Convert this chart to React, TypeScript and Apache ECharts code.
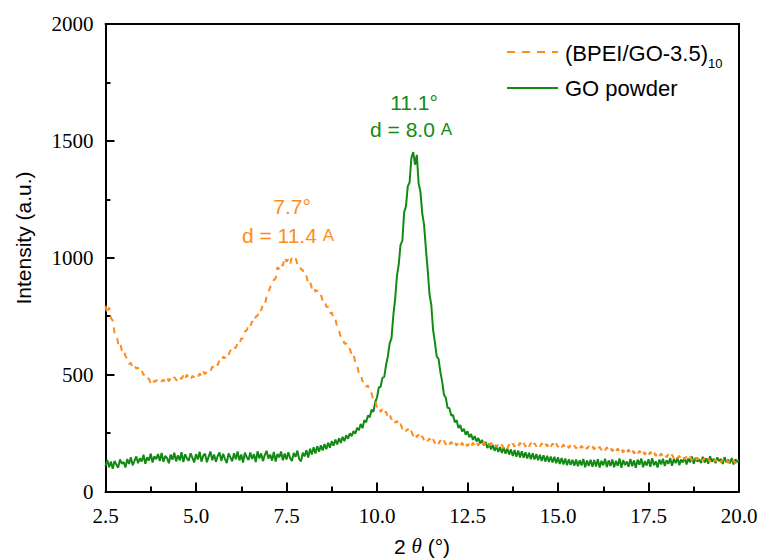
import React, { useEffect, useRef } from "react";
import * as echarts from "echarts";

// 2θ sampling: start 2.5°, step 0.05°, up to 20.0°
const X_START = 2.5;
const X_STEP = 0.05;
const X_TICKS = [2.5, 5.0, 7.5, 10.0, 12.5, 15.0, 17.5, 20.0];
const Y_TICKS = [0, 500, 1000, 1500, 2000];

const SERIES_NAMES = ["(BPEI/GO-3.5)10", "GO powder"];

// (BPEI/GO-3.5)10 intensity
const bpeiIntensity = [
  795, 760, 788, 742, 731, 680, 676, 632, 641, 603,
  610, 580, 566, 545, 551, 528, 538, 526, 530, 512,
  518, 498, 505, 486, 482, 462, 478, 468, 476, 472,
  482, 470, 479, 468, 486, 472, 484, 474, 489, 478,
  472, 490, 481, 496, 479, 500, 484, 476, 495, 489,
  498, 488, 505, 494, 515, 502, 511, 520, 514, 534,
  529, 547, 541, 562, 556, 577, 570, 592, 586, 604,
  598, 617, 614, 636, 630, 655, 654, 684, 690, 712,
  705, 728, 720, 748, 752, 780, 774, 803, 800, 832,
  850, 876, 878, 905, 912, 960, 952, 974, 966, 1002,
  984, 992, 970, 1005, 998, 1000, 972, 974, 950, 948,
  920, 922, 890, 898, 870, 880, 855, 860, 840, 842,
  816, 820, 790, 790, 762, 766, 738, 740, 700, 688,
  660, 660, 632, 634, 608, 610, 586, 592, 550, 540,
  504, 504, 470, 474, 448, 454, 422, 420, 390, 392,
  358, 364, 340, 352, 332, 342, 318, 330, 308, 318,
  294, 302, 280, 289, 268, 278, 258, 268, 247, 258,
  238, 251, 232, 244, 225, 237, 219, 230, 216, 227,
  210, 224, 206, 220, 204, 219, 203, 217, 201, 214,
  200, 213, 198, 212, 196, 210, 195, 209, 193, 208,
  193, 207, 191, 209, 194, 210, 196, 213, 198, 211,
  200, 211, 197, 208, 194, 205, 190, 202, 188, 200,
  186, 199, 184, 201, 188, 205, 192, 207, 194, 209,
  193, 208, 191, 207, 192, 208, 190, 207, 193, 206,
  192, 206, 194, 208, 192, 207, 190, 206, 189, 205,
  190, 204, 189, 201, 187, 200, 186, 198, 185, 197,
  184, 197, 183, 196, 182, 195, 182, 194, 181, 193,
  180, 192, 179, 191, 178, 190, 176, 189, 174, 187,
  172, 186, 170, 184, 168, 183, 167, 181, 165, 180,
  163, 178, 162, 176, 160, 175, 159, 173, 157, 172,
  156, 170, 154, 169, 152, 166, 150, 163, 148, 160,
  146, 159, 144, 157, 142, 155, 141, 153, 139, 151,
  138, 150, 136, 148, 134, 147, 133, 145, 131, 144,
  130, 143, 129, 141, 127, 140, 126, 138, 125, 137,
  124, 136, 123, 135, 122, 134, 121, 133, 120, 132,
  125,
];

// GO powder intensity
const goIntensity = [
  108, 135, 104, 128, 97, 131, 115, 102, 137, 119,
  126, 103, 139, 118, 147, 112, 131, 150, 121, 142,
  128, 157, 119, 146, 133, 162, 124, 151, 138, 160,
  130, 165, 127, 152, 143, 121, 158, 136, 166, 129,
  155, 133, 168, 126, 159, 142, 131, 164, 145, 124,
  160, 137, 170, 128, 153, 162, 125, 149, 171, 134,
  158, 127, 152, 167, 131, 161, 140, 122, 163, 146,
  129, 164, 138, 171, 133, 158, 124, 166, 147, 135,
  167, 139, 160, 126, 172, 141, 163, 130, 156, 174,
  141, 158, 132, 169, 128, 160, 146, 171, 134, 162,
  137, 168, 143, 130, 165, 148, 175, 139, 129, 166,
  150, 177, 145, 183, 158, 189, 163, 194, 170, 198,
  176, 203, 181, 209, 187, 215, 196, 222, 201, 228,
  208, 234, 215, 241, 226, 249, 237, 258, 247, 272,
  262, 289, 271, 305, 296, 325, 318, 350, 341, 382,
  402, 445, 448, 486, 490, 541, 579, 634, 655, 752,
  822, 921, 972, 1055, 1072, 1195, 1220, 1305, 1322, 1428,
  1452, 1398, 1440, 1318, 1282, 1190, 1142, 1040, 948, 845,
  798, 690, 638, 578, 567, 512, 470, 414, 401, 358,
  356, 325, 327, 296, 305, 272, 284, 257, 268, 243,
  258, 232, 246, 221, 237, 214, 229, 205, 221, 198,
  212, 186, 205, 180, 199, 174, 195, 169, 190, 165,
  188, 162, 184, 158, 180, 152, 177, 149, 175, 146,
  172, 145, 168, 141, 166, 138, 163, 137, 160, 134,
  157, 131, 155, 128, 153, 126, 150, 124, 149, 121,
  146, 118, 143, 116, 141, 112, 138, 114, 136, 110,
  137, 108, 134, 111, 139, 104, 133, 109, 136, 106,
  135, 107, 138, 103, 131, 112, 140, 105, 133, 109,
  137, 104, 131, 110, 141, 102, 134, 113, 128, 106,
  139, 108, 133, 101, 136, 115, 141, 104, 130, 111,
  138, 106, 142, 112, 129, 103, 137, 116, 140, 109,
  134, 118, 143, 110, 139, 121, 145, 113, 137, 124,
  146, 116, 141, 125, 150, 119, 144, 128, 138, 122,
  148, 124, 142, 119, 151, 127, 140, 121, 146, 130,
  139, 118, 147, 125, 136, 121, 143, 116, 138, 127,
  132,
];

const ORANGE = "#FF8C1A";
const GREEN = "#138A13";
const SANS = "Liberation Sans";
const SERIF = "Times New Roman, Liberation Serif, serif";

function toPairs(values: number[]) {
  return values.map((v, i) => [+(X_START + i * X_STEP).toFixed(2), v]);
}

export default function App() {
  const ref = useRef<HTMLDivElement>(null);

  useEffect(() => {
    if (!ref.current) return;
    const chart = echarts.init(ref.current, null, { renderer: "svg" });

    const annot = (color: string) => ({
      n: { fontFamily: SANS, fontSize: 21, fill: color },
      s: { fontFamily: SANS, fontSize: 17, fill: color },
    });

    const tickLabelRich = {
      t: { fontFamily: SERIF, fontSize: 21, color: "#000" },
    };

    const axisLine = { show: true, onZero: false, lineStyle: { color: "#000", width: 2 } };
    const axisTick = { show: true, inside: true, length: 9, lineStyle: { color: "#000", width: 2 } };
    const minorTick = { show: true, splitNumber: 2, length: 5, lineStyle: { color: "#000", width: 2 } };

    const xRange = { min: X_TICKS[0], max: X_TICKS[X_TICKS.length - 1], interval: 2.5 };
    const yRange = { min: Y_TICKS[0], max: Y_TICKS[Y_TICKS.length - 1], interval: 500 };

    chart.setOption({
      animation: false,
      backgroundColor: "#ffffff",
      textStyle: { fontFamily: SERIF },
      grid: {
        left: 105.5,
        right: 24,
        top: 24,
        bottom: 67.5,
        show: false,
      },
      xAxis: [
        {
          type: "value",
          position: "bottom",
          ...xRange,
          axisLine,
          axisTick,
          minorTick,
          splitLine: { show: false },
          minorSplitLine: { show: false },
          axisLabel: {
            margin: 14,
            fontFamily: SERIF,
            fontSize: 21,
            color: "#000",
            rich: tickLabelRich,
            formatter: (v: number) => "{t|" + v.toFixed(1) + "}",
          },
        },
        {
          type: "value",
          position: "top",
          ...xRange,
          axisLine,
          axisTick: { show: false },
          axisLabel: { show: false },
          splitLine: { show: false },
        },
      ],
      yAxis: [
        {
          type: "value",
          position: "left",
          ...yRange,
          axisLine,
          axisTick,
          minorTick,
          splitLine: { show: false },
          minorSplitLine: { show: false },
          axisLabel: {
            margin: 12,
            fontFamily: SERIF,
            fontSize: 21,
            color: "#000",
            rich: tickLabelRich,
            formatter: (v: number) => "{t|" + String(v) + "}",
          },
        },
        {
          type: "value",
          position: "right",
          ...yRange,
          axisLine,
          axisTick: { show: false },
          axisLabel: { show: false },
          splitLine: { show: false },
        },
      ],
      series: [
        {
          name: SERIES_NAMES[1],
          type: "line",
          xAxisIndex: 0,
          yAxisIndex: 0,
          data: toPairs(goIntensity),
          showSymbol: false,
          symbol: "none",
          lineStyle: { color: GREEN, width: 2 },
          z: 2,
        },
        {
          name: SERIES_NAMES[0],
          type: "line",
          xAxisIndex: 0,
          yAxisIndex: 0,
          data: toPairs(bpeiIntensity),
          showSymbol: false,
          symbol: "none",
          lineStyle: { color: ORANGE, width: 2, type: [6, 6] },
          z: 3,
        },
      ],
      graphic: [
        // axis titles
        {
          type: "text",
          x: 23,
          y: 238,
          rotation: Math.PI / 2,
          style: {
            text: "Intensity (a.u.)",
            fontFamily: SANS,
            fontSize: 21,
            fill: "#000",
            align: "center",
            verticalAlign: "middle",
          },
        },
        {
          type: "text",
          x: 422,
          y: 546,
          style: {
            text: "{a|2 }{b|θ}{a| (°)}",
            align: "center",
            verticalAlign: "middle",
            rich: {
              a: { fontFamily: SANS, fontSize: 21, fill: "#000" },
              b: { fontFamily: SERIF, fontStyle: "italic", fontSize: 21, fill: "#000" },
            },
          },
        },
        // legend
        {
          type: "line",
          shape: { x1: 507, y1: 52, x2: 558, y2: 52 },
          style: { stroke: ORANGE, lineWidth: 2, lineDash: [8, 7] },
        },
        {
          type: "text",
          x: 565,
          y: 53,
          style: {
            text: "{n|(BPEI/GO-3.5)}{s|10}",
            verticalAlign: "middle",
            align: "left",
            rich: {
              n: { fontFamily: SANS, fontSize: 22, fill: "#000" },
              s: { fontFamily: SANS, fontSize: 13, fill: "#000", padding: [20, 0, 0, 0] },
            },
          },
        },
        {
          type: "line",
          shape: { x1: 507, y1: 88, x2: 558, y2: 88 },
          style: { stroke: GREEN, lineWidth: 2 },
        },
        {
          type: "text",
          x: 565,
          y: 88,
          style: {
            text: "GO powder",
            fontFamily: SANS,
            fontSize: 22,
            fill: "#000",
            align: "left",
            verticalAlign: "middle",
          },
        },
        // annotations
        {
          type: "text",
          x: 292,
          y: 206,
          style: {
            text: "{n|7.7°}",
            align: "center",
            verticalAlign: "middle",
            rich: annot(ORANGE),
          },
        },
        {
          type: "text",
          x: 288,
          y: 235,
          style: {
            text: "{n|d = 11.4 }{s|A}",
            align: "center",
            verticalAlign: "middle",
            rich: annot(ORANGE),
          },
        },
        {
          type: "text",
          x: 414,
          y: 102,
          style: {
            text: "{n|11.1°}",
            align: "center",
            verticalAlign: "middle",
            rich: annot(GREEN),
          },
        },
        {
          type: "text",
          x: 411,
          y: 129,
          style: {
            text: "{n|d = 8.0 }{s|A}",
            align: "center",
            verticalAlign: "middle",
            rich: annot(GREEN),
          },
        },
      ],
    });

    return () => chart.dispose();
  }, []);

  return (
    <div
      ref={ref}
      style={{ position: "fixed", left: 0, top: 0, width: 763, height: 559, background: "#fff" }}
    />
  );
}
